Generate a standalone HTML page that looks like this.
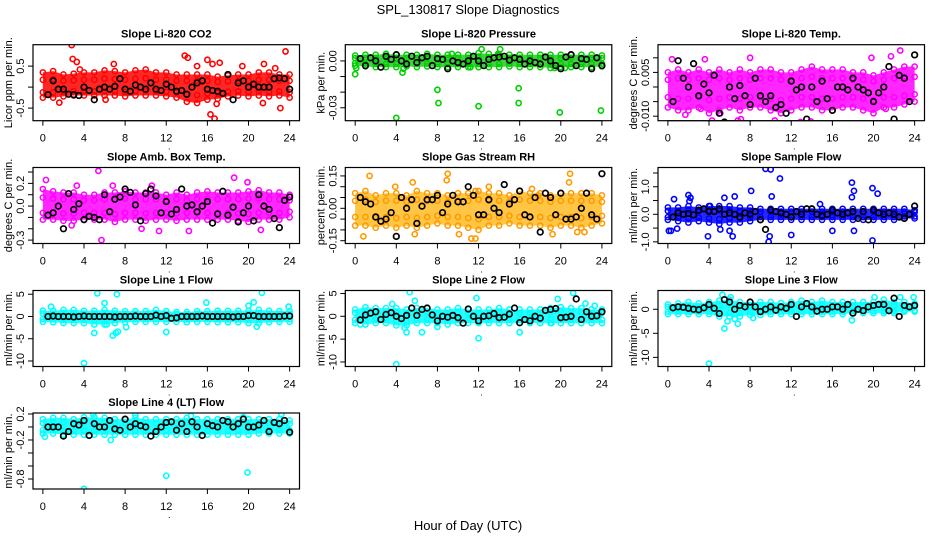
<!DOCTYPE html>
<html><head><meta charset="utf-8"><style>
html,body{margin:0;padding:0;background:#fff;}
svg{display:block;font-family:"Liberation Sans",sans-serif;}
</style></head><body>
<svg id="chart" width="936" height="540" viewBox="0 0 936 540" xmlns="http://www.w3.org/2000/svg">
<text x="468" y="14" text-anchor="middle" font-size="13">SPL_130817  Slope Diagnostics</text>
<text x="468" y="530" text-anchor="middle" font-size="13">Hour of Day (UTC)</text>
</svg>
<script>
const bandHours=[0,1,2,3,4,5,6,7,8,9,10,11,12,13,14,15,16,17,18,19,20,21,22,23,24];
const xTicks=[0,4,8,12,16,20,24];
const blackHours=Array.from({length:48},(_,i)=>(i+1)*0.5);

const co2Hi=[0.35,0.38,0.3,0.32,0.35,0.35,0.4,0.38,0.35,0.4,0.42,0.35,0.35,0.3,0.3,0.3,0.3,0.25,0.28,0.3,0.3,0.35,0.35,0.3,0.3];
const co2Lo=[-0.25,-0.25,-0.22,-0.2,-0.2,-0.2,-0.2,-0.2,-0.22,-0.2,-0.2,-0.2,-0.22,-0.25,-0.35,-0.38,-0.3,-0.28,-0.22,-0.2,-0.22,-0.2,-0.22,-0.2,-0.25];
const co2OutX=[2.8,2.9,3.3,3.6,1.6,6.9,13.8,14.1,16.0,16.3,16.7,17.2,16.9,19.4,21.5,21.4,23.1,23.6,6.1,15.0,22.6,16.5];
const co2OutY=[1.0,0.67,0.6,0.42,-0.37,0.55,0.75,0.7,0.65,-0.65,-0.75,0.58,-0.4,0.5,0.55,-0.38,-0.5,0.85,-0.3,0.5,0.45,0.55];
const co2Black=[-0.18,0.15,-0.05,-0.05,-0.17,-0.18,-0.2,0.0,-0.08,-0.3,-0.05,0.0,-0.05,0.02,0.2,-0.05,-0.1,0.05,0.0,-0.05,0.1,-0.05,-0.08,0.07,0.0,-0.1,-0.08,-0.17,0.0,0.1,0.15,-0.05,-0.08,-0.1,-0.15,0.3,-0.3,0.1,0.15,0.0,0.07,0.0,0.0,0.0,0.2,0.22,0.2,-0.05];

const presHi=[0.0035,0.004,0.004,0.0045,0.004,0.004,0.004,0.0045,0.004,0.004,0.004,0.004,0.005,0.0045,0.004,0.004,0.004,0.004,0.004,0.004,0.004,0.004,0.004,0.004,0.0035];
const presLo=[-0.003,-0.0035,-0.004,-0.004,-0.004,-0.0035,-0.004,-0.0035,-0.004,-0.004,-0.004,-0.004,-0.004,-0.004,-0.004,-0.0035,-0.004,-0.004,-0.004,-0.0045,-0.004,-0.004,-0.004,-0.004,-0.0035];
const presOutX=[0,0.1,4.6,4.7,8,8.1,4,12,12.3,13.9,14.1,15.9,15.9,19.9,23.9,19.4,20.4,11.2,9.4];
const presOutY=[-0.0085,-0.0045,-0.0075,-0.005,-0.0185,-0.027,-0.0365,-0.029,0.0075,0.0045,0.0075,-0.0175,-0.027,-0.033,-0.0318,-0.0045,-0.0045,-0.004,0.0045];
const presBlack=[0.0015,-0.003,0.002,0.0,-0.004,0.003,0.001,0.004,0.0,-0.002,0.003,-0.001,0.002,0.003,-0.003,0.0015,0.001,-0.005,0.0,-0.001,-0.002,0.0,0.003,0.0,-0.003,0.001,0.002,0.0025,0.003,0.0005,0.002,0.001,-0.002,0.0,-0.001,-0.002,0.0025,0.0,-0.003,-0.005,0.0025,0.004,-0.003,0.0015,0.001,-0.005,0.002,-0.003];

const tempHi=[0.005,0.006,0.005,0.006,0.005,0.006,0.005,0.006,0.005,0.006,0.006,0.005,0.005,0.006,0.007,0.006,0.006,0.006,0.005,0.005,0.004,0.005,0.006,0.007,0.007];
const tempLo=[-0.007,-0.008,-0.008,-0.007,-0.009,-0.008,-0.007,-0.008,-0.007,-0.007,-0.008,-0.009,-0.008,-0.007,-0.007,-0.008,-0.008,-0.007,-0.007,-0.008,-0.009,-0.007,-0.007,-0.006,-0.005];
const tempOutX=[0.4,3.6,8,4.3,6.8,11.3,10.4,12.9,13.9,19.8,21.7,22.6,23.1,1.7,3.2,5.1,7.1,21.2];
const tempOutY=[0.0095,0.0095,0.010,-0.0115,-0.0115,-0.013,-0.0115,-0.012,-0.0118,0.010,0.0105,0.0125,-0.0125,-0.0095,-0.0075,-0.009,-0.011,-0.0075];
const tempBlack=[-0.005,0.009,0.003,0.0,0.008,-0.003,0.001,-0.002,0.004,-0.009,-0.012,0.0,-0.004,0.0005,-0.003,-0.006,0.003,-0.003,-0.005,-0.003,-0.007,-0.006,-0.009,0.002,-0.001,0.0,-0.011,0.0,-0.005,0.002,-0.004,-0.008,0.0,0.0,-0.001,0.003,0.0,-0.001,-0.002,-0.005,-0.002,0.0,0.007,-0.011,0.004,0.003,-0.005,0.011];

const boxHi=[0.15,0.13,0.12,0.12,0.1,0.1,0.12,0.12,0.13,0.12,0.12,0.12,0.1,0.12,0.1,0.12,0.13,0.12,0.12,0.12,0.13,0.14,0.12,0.12,0.1];
const boxLo=[-0.12,-0.12,-0.13,-0.13,-0.12,-0.12,-0.12,-0.14,-0.12,-0.12,-0.13,-0.12,-0.12,-0.13,-0.12,-0.12,-0.12,-0.12,-0.12,-0.13,-0.14,-0.12,-0.12,-0.12,-0.1];
const boxOutX=[0.3,5.4,5.7,18.6,19.9,2.8,9.6,11.3,14.2,21.2,6.8,3.3,10.6];
const boxOutY=[0.23,0.31,-0.3,0.25,0.21,-0.17,-0.2,-0.22,-0.22,-0.21,0.18,0.18,0.18];
const boxBlack=[-0.08,-0.06,0.0,-0.2,0.11,-0.03,0.02,-0.12,-0.09,-0.1,-0.12,0.1,-0.05,0.06,0.08,0.15,0.12,0.01,-0.13,0.11,0.15,0.09,-0.06,0.04,-0.07,-0.03,0.15,0.0,0.01,-0.05,0.0,0.04,-0.15,-0.07,0.13,-0.08,-0.01,-0.14,-0.06,0.0,-0.13,0.1,0.0,-0.03,-0.11,-0.19,0.05,0.08];

const rhHi=[0.07,0.08,0.06,0.07,0.07,0.06,0.08,0.07,0.07,0.06,0.07,0.07,0.08,0.07,0.07,0.06,0.08,0.07,0.07,0.06,0.07,0.07,0.07,0.07,0.06];
const rhLo=[-0.08,-0.08,-0.09,-0.08,-0.09,-0.08,-0.09,-0.08,-0.07,-0.08,-0.08,-0.09,-0.1,-0.08,-0.08,-0.07,-0.08,-0.08,-0.08,-0.09,-0.08,-0.08,-0.09,-0.08,-0.07];
const rhOutX=[1.4,0.8,3.9,5.6,5.8,9,8.9,10.1,11.3,11.7,11.7,13,17.2,17.8,20.9,20.8,21.6,22.3,19.2];
const rhOutY=[0.15,-0.13,0.1,0.12,-0.12,0.16,0.13,-0.12,-0.14,-0.14,0.08,0.1,0.09,0.06,0.16,0.12,-0.11,-0.11,-0.12];
const rhBlack=[0.05,0.03,0.02,-0.04,-0.06,-0.05,-0.02,-0.13,0.05,0.0,0.04,-0.07,0.01,0.04,0.04,0.06,-0.02,0.02,0.06,0.03,0.03,0.1,0.06,-0.03,-0.03,0.04,0.0,-0.02,0.11,0.02,0.04,0.08,-0.03,-0.04,0.05,-0.11,0.07,0.05,-0.03,0.07,-0.05,-0.05,-0.04,0.0,0.07,-0.03,-0.05,0.16];

const flowHi=[0.25,0.25,0.3,0.25,0.3,0.3,0.3,0.25,0.25,0.2,0.2,0.2,0.2,0.2,0.2,0.2,0.2,0.2,0.2,0.2,0.2,0.2,0.2,0.2,0.15];
const flowLo=[-0.2,-0.25,-0.3,-0.25,-0.3,-0.35,-0.3,-0.3,-0.25,-0.2,-0.2,-0.2,-0.2,-0.2,-0.2,-0.2,-0.2,-0.2,-0.2,-0.2,-0.2,-0.2,-0.2,-0.15,-0.15];
const flowOutX=[9.5,10,10.9,2,2.2,5.5,6.5,8.1,10.1,17.9,18.1,17.9,19.9,20.4,0.1,0.3,0.9,3.9,6.3,9.8,9.9,12,16,18.1,19.9,5.1,6,0.6,2.1,14.8,4.1];
const flowOutY=[1.65,1.63,1.3,0.7,0.6,0.6,0.65,0.85,0.65,1.15,0.85,0.62,0.95,0.75,-0.6,-0.6,-0.52,-0.8,-0.8,-1.0,-0.8,-0.75,-0.6,-0.6,-0.95,-0.55,-0.6,0.55,0.48,0.37,0.3];
const flowBlack=[-0.1,0.05,0.0,0.03,-0.02,0.15,0.2,0.1,0.1,0.2,0.0,0.05,0.0,-0.1,0.05,0.0,0.1,-0.2,-0.55,0.15,0.1,0.05,0.0,-0.1,0.1,0.0,0.2,0.2,0.0,-0.05,0.0,0.15,0.05,0.0,0.05,0.1,-0.15,0.1,-0.2,0.15,0.05,0.0,0.05,0.0,-0.1,-0.15,0.0,0.3];

const l1Hi=[1.3,1.3,1.5,1.5,1.3,1.3,1.5,1.3,1.2,1.2,1.2,1.5,1.2,1.0,1.0,1.2,1.2,1.3,1.3,1.3,1.3,1.5,1.3,1.2,1.2];
const l1Lo=[-1.2,-1.3,-1.5,-1.5,-1.5,-1.8,-1.8,-1.5,-1.3,-1.2,-1.2,-1.2,-1.2,-1.2,-1.3,-1.2,-1.2,-1.3,-1.3,-1.3,-1.5,-1.5,-1.3,-1.2,-1.2];
const l1OutX=[5.3,7.2,21.3,0.8,6,15.9,20,20.5,23.9,5,6.8,7.1,7.3,8.1,12,4,20.8,6.2];
const l1OutY=[5.2,5,5.3,2.2,3,3.1,2.4,3.2,2.2,-3.7,-4.3,-3.7,-3.4,-2.4,-3.5,-10.5,-2.3,-1.8];
const l1Black=[0,0.1,0,0,0,-0.1,0,0.1,0,0,0,0,0,-0.1,0,0,0,0.1,0,0,0,0.3,0,0.2,-0.4,-0.3,0,0,0,0,0.1,0,0,0,0,0,-0.1,0,0,0.2,0.2,0,0,0,0,0,0.1,0.1];

const l2Hi=[1.5,2,1.8,1.8,1.8,1.5,1.8,1.8,1.5,1.5,1.8,1.5,1.5,1.5,1.8,1.5,1.5,1.5,1.5,1.8,2,1.8,1.8,1.5,1.5];
const l2Lo=[-1.5,-1.8,-1.5,-1.5,-2,-2,-1.5,-1.5,-1.5,-1.8,-1.5,-1.5,-1.5,-1.5,-1.5,-1.5,-1.5,-1.5,-1.5,-1.5,-1.5,-1.5,-1.5,-1.5,-1.5];
const l2OutX=[3.6,5.3,5.8,21.2,22.4,4,4.8,5,6.5,8,12,16,19.7,0.5,19.1,23.3,11.8];
const l2OutY=[2.7,5.3,3.4,5.1,2.8,-10.5,-2.5,-3.5,-3.5,-2.3,-4.8,-3.5,3.8,-1.8,-1.5,2.3,4.0];
const l2Black=[-0.8,0.3,0.7,1.0,-0.7,0.4,0.8,0.0,-0.5,0.2,1.8,0.2,1.5,1.8,0.3,-1.0,0.0,-0.2,0.2,-0.3,-1.5,1.6,0.0,-1.0,0.0,0.1,0.6,-0.3,-0.2,0.5,1.8,-1.4,-0.7,-1.0,0.0,-0.4,1.3,1.5,1.7,-0.3,-0.2,0.0,3.8,-0.7,1.0,0.0,0.1,1.0];

const l3Hi=[1,1.2,1.5,1.2,1.5,1.8,2,1.5,1.5,1.5,1.5,1.3,1.5,1.8,1.5,1.8,1.5,1.5,1.5,1.5,1.5,2,1.5,1.5,1.2];
const l3Lo=[-1,-1,-1,-1,-1,-1.5,-1.5,-1.5,-1.2,-1.2,-1,-1,-1,-1,-1,-1,-1,-1,-0.8,-0.8,-0.8,-0.8,-0.8,-0.5,-0.5];
const l3OutX=[4,5.5,5.8,5.3,6.1,6.5,20.1,22.6,23.9,17.9,6.8,8.3];
const l3OutY=[-11.3,-4,-2.5,3,2.5,-2,2.5,2.5,2.5,-2.3,-3,-1.8];
const l3Black=[0.3,0.5,0.4,0.2,0,-0.1,0.3,1.0,0.2,-0.9,2.0,1.5,0,0.8,0.5,1.5,0.5,-0.5,0,0.5,-0.2,0.5,0.2,1.0,-1.5,0.5,1.2,0.5,-0.4,0,0,0.5,0.5,0,1.0,-0.8,0,-0.3,0.5,0.8,1.0,1.0,-0.3,2.3,-1.5,0.8,0.5,0.8];

const l4Hi=[0.12,0.14,0.14,0.12,0.15,0.15,0.14,0.12,0.12,0.14,0.12,0.12,0.12,0.12,0.14,0.12,0.12,0.12,0.12,0.12,0.12,0.12,0.12,0.12,0.1];
const l4Lo=[-0.1,-0.1,-0.12,-0.12,-0.12,-0.12,-0.12,-0.12,-0.12,-0.12,-0.12,-0.12,-0.12,-0.12,-0.12,-0.12,-0.12,-0.12,-0.12,-0.12,-0.12,-0.1,-0.1,-0.1,-0.1];
const l4OutX=[4,12,19.9,6.6,0.2,4.9,9,23.2,19.5,14.4];
const l4OutY=[-0.95,-0.75,-0.7,-0.2,-0.15,0.2,0.18,0.2,0.15,0.17];
const l4Black=[0.0,0.0,0.0,-0.14,-0.07,0.05,0.03,0.1,-0.13,0.05,0.0,0.0,0.1,-0.03,-0.05,0.12,0.0,0.05,0.02,0.0,-0.14,-0.07,0.0,0.07,0.08,-0.05,0.05,-0.07,0.08,0.0,-0.13,0.05,0.02,0.0,0.1,0.08,0.0,0.05,0.12,0.0,0.0,0.03,0.1,-0.07,0.07,0.05,0.1,-0.08];

const panels=[
 {name:'co2',title:'Slope Li-820 CO2',ylab:'Licor ppm per min.',c:0,r:0,dom:[1.01,-0.80],col:'#ff0000',fill:'#ff0000',hi:co2Hi,lo:co2Lo,ox:co2OutX,oy:co2OutY,bk:co2Black,ticks:[0.5,0,-0.5],labs:['0.5','','-0.5']},
 {name:'pressure',title:'Slope Li-820 Pressure',ylab:'kPa per min.',c:1,r:0,dom:[0.0104,-0.0383],col:'#00d000',fill:'#22c822',hi:presHi,lo:presLo,ox:presOutX,oy:presOutY,bk:presBlack,ticks:[0,-0.01,-0.02,-0.03],labs:['0.00','','','-0.03']},
 {name:'li820-temp',title:'Slope Li-820 Temp.',ylab:'degrees C per min.',c:2,r:0,dom:[0.01449,-0.01154],col:'#ff00ff',fill:'#ff00ff',hi:tempHi,lo:tempLo,ox:tempOutX,oy:tempOutY,bk:tempBlack,ticks:[0.01,0.005,0,-0.005,-0.01],labs:['','0.005','','','-0.010']},
 {name:'box-temp',title:'Slope Amb. Box Temp.',ylab:'degrees C per min.',c:0,r:1,dom:[0.34,-0.33],col:'#ff00ff',fill:'#ff00ff',hi:boxHi,lo:boxLo,ox:boxOutX,oy:boxOutY,bk:boxBlack,ticks:[0.3,0.2,0.1,0,-0.1,-0.2,-0.3],labs:['','0.2','','0.0','','','-0.3']},
 {name:'gas-rh',title:'Slope Gas Stream RH',ylab:'percent per min.',c:1,r:1,dom:[0.189,-0.163],col:'#ff9900',fill:'#ffbb22',hi:rhHi,lo:rhLo,ox:rhOutX,oy:rhOutY,bk:rhBlack,ticks:[0.15,0.1,0.05,0,-0.05,-0.1,-0.15],labs:['0.15','','','0.00','','','-0.15']},
 {name:'sample-flow',title:'Slope Sample Flow',ylab:'ml/min per min.',c:2,r:1,dom:[1.70,-1.06],col:'#0000ff',fill:'#0000ff',hi:flowHi,lo:flowLo,ox:flowOutX,oy:flowOutY,bk:flowBlack,ticks:[1.5,1,0.5,0,-0.5,-1],labs:['','1.0','','0.0','','-1.0']},
 {name:'line1-flow',title:'Slope Line 1 Flow',ylab:'ml/min per min.',c:0,r:2,dom:[5.84,-11.24],col:'#00ffff',fill:'#00ffff',hi:l1Hi,lo:l1Lo,ox:l1OutX,oy:l1OutY,bk:l1Black,ticks:[5,0,-5,-10],labs:['5','0','-5','-10']},
 {name:'line2-flow',title:'Slope Line 2 Flow',ylab:'ml/min per min.',c:1,r:2,dom:[5.65,-10.99],col:'#00ffff',fill:'#00ffff',hi:l2Hi,lo:l2Lo,ox:l2OutX,oy:l2OutY,bk:l2Black,ticks:[5,0,-5,-10],labs:['5','0','-5','-10']},
 {name:'line3-flow',title:'Slope Line 3 Flow',ylab:'ml/min per min.',c:2,r:2,dom:[3.9,-11.9],col:'#00ffff',fill:'#00ffff',hi:l3Hi,lo:l3Lo,ox:l3OutX,oy:l3OutY,bk:l3Black,ticks:[0,-5,-10],labs:['0','-5','-10']},
 {name:'line4-flow',title:'Slope Line 4 (LT) Flow',ylab:'ml/min per min.',c:0,r:3,dom:[0.215,-0.954],col:'#00ffff',fill:'#00ffff',hi:l4Hi,lo:l4Lo,ox:l4OutX,oy:l4OutY,bk:l4Black,ticks:[0.2,0,-0.2,-0.4,-0.6,-0.8],labs:['0.2','','-0.2','','','-0.8']}
];

const colX=[33,345.3,658], rowY=[44.7,167.5,290.5,413], PW=266.5, PH=76;
const NS='http://www.w3.org/2000/svg';
const svg=document.getElementById('chart');
function mk(tag,attrs,parent){const e=document.createElementNS(NS,tag);for(const k in attrs)e.setAttribute(k,attrs[k]);(parent||svg).appendChild(e);return e;}

panels.forEach(p=>{
  const L=colX[p.c], T=rowY[p.r], R=L+PW, B=T+PH;
  const xs=h=>L+(h+0.96)/25.92*PW;
  const ys=v=>T+(p.dom[0]-v)/(p.dom[0]-p.dom[1])*PH;
  const g=mk('g',{});
  
  
  const clipId='clip-'+p.name;
  const cp=mk('clipPath',{id:clipId},g);
  mk('rect',{x:L,y:T,width:PW,height:PH},cp);
  const t=mk('text',{x:(L+R)/2,y:T-7,'text-anchor':'middle','font-size':'11','font-weight':'bold'},g);
  t.textContent=p.title;
  
  
  const yl=mk('text',{x:0,y:0,'text-anchor':'middle','font-size':'11',transform:`translate(${L-21},${(T+B)/2}) rotate(-90)`},g);
  yl.textContent=p.ylab;
  
  
  const plot=mk('g',{'clip-path':`url(#${clipId})`},g);
  
  
  let pts=bandHours.map((h,i)=>xs(h)+','+ys(p.hi[i]));
  pts=pts.concat(bandHours.map((h,i)=>xs(h)+','+ys(p.lo[i])).reverse());
  const band=mk('polygon',{points:pts.join(' '),fill:p.fill,'fill-opacity':'0.85',stroke:'none'},plot);
  
  
  bandHours.forEach((h,i)=>{
    [p.hi[i],p.lo[i],(p.hi[i]*0.5),(p.lo[i]*0.5)].forEach(v=>{
      const c=mk('circle',{cx:xs(h),cy:ys(v),r:2.6,fill:'none',stroke:p.col,'stroke-width':1.5},plot);
      
      
    });
  });
  p.ox.forEach((h,i)=>{
    const c=mk('circle',{cx:xs(h),cy:ys(p.oy[i]),r:2.6,fill:'none',stroke:p.col,'stroke-width':1.6},plot);
    
    
  });
  blackHours.forEach((h,i)=>{
    const c=mk('circle',{cx:xs(h),cy:ys(p.bk[i]),r:2.8,fill:'none',stroke:'#000','stroke-width':1.7},plot);
    
    
  });
  const box=mk('rect',{x:L,y:T,width:PW,height:PH,fill:'none',stroke:'#000','stroke-width':1.2},g);
  
  
  mk('line',{x1:xs(0),x2:xs(24),y1:B,y2:B,stroke:'#000','stroke-width':1},g);
  xTicks.forEach(h=>{
    mk('line',{x1:xs(h),x2:xs(h),y1:B,y2:B+5,stroke:'#000','stroke-width':1},g);
    const tl=mk('text',{x:xs(h),y:B+21,'text-anchor':'middle','font-size':'11'},g);
    tl.textContent=h;
    
    
  });
  const dot=mk('text',{x:xs(12)+3,y:B+29,'text-anchor':'middle','font-size':'9'},g);
  dot.textContent='.';
  mk('line',{x1:L,x2:L,y1:ys(p.ticks[0]),y2:ys(p.ticks[p.ticks.length-1]),stroke:'#000','stroke-width':1},g);
  p.ticks.forEach((v,i)=>{
    mk('line',{x1:L-5,x2:L,y1:ys(v),y2:ys(v),stroke:'#000','stroke-width':1},g);
    if(p.labs[i]){
      const tl=mk('text',{x:0,y:0,'text-anchor':'middle','font-size':'11',transform:`translate(${L-9},${ys(v)}) rotate(-90)`},g);
      tl.textContent=p.labs[i];
      
      
    }
  });
});
</script>
</body></html>
